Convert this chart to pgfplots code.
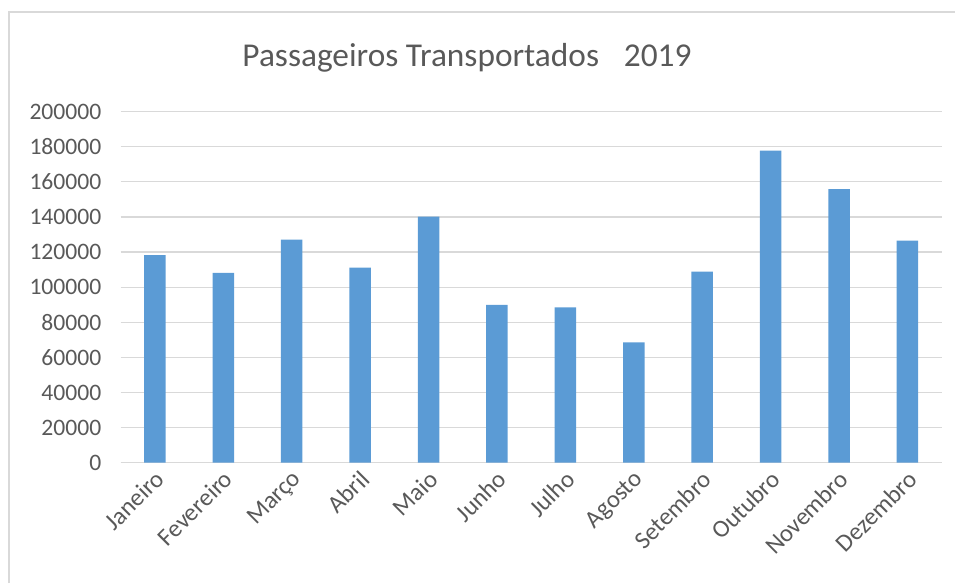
\documentclass[border=0pt]{standalone}
\usepackage{pgfplots}
\pgfplotsset{compat=1.18}
\usepackage{fontspec}
\setmainfont{Carlito}
\definecolor{barblue}{HTML}{5B9BD5}
\definecolor{gridgray}{HTML}{D9D9D9}
\definecolor{txtgray}{HTML}{595959}
\definecolor{framegray}{HTML}{D9D9D9}
\begin{document}
\begin{tikzpicture}
\useasboundingbox (0,0) rectangle (716.25pt,437.25pt);
\draw[framegray, line width=1.5pt] (6.75pt,0pt) -- (6.75pt,428.25pt) -- (716.25pt,428.25pt);
\node[txtgray, font=\fontsize{25}{30}\selectfont] at (350.25pt,393.75pt) {Passageiros Transportados\hspace{13pt} 2019};
\begin{axis}[
  at={(90.5pt,90.25pt)}, anchor=south west,
  scale only axis, width=615.75pt, height=263.25pt,
  xmin=-0.5, xmax=11.5, ymin=0, ymax=200000,
  ytick={0,20000,...,200000},
  scaled y ticks=false,
  yticklabel style={/pgf/number format/fixed, /pgf/number format/1000 sep={}, font=\fontsize{17.7}{21}\selectfont, text=txtgray, xshift=-11pt},
  /pgf/number format/assume math mode=true,
  xtick=data,
  xticklabels={Janeiro,Fevereiro,Março,Abril,Maio,Junho,Julho,Agosto,Setembro,Outubro,Novembro,Dezembro},
  xticklabel style={rotate=45, anchor=north east, font=\fontsize{18.5}{22}\selectfont, text=txtgray, inner sep=1pt, yshift=-1.5pt, xshift=-2.8pt},
  major tick length=0pt,
  ymajorgrids, grid style={gridgray, line width=0.9pt},
  axis x line*=bottom, axis y line*=left,
  y axis line style={draw=none},
  x axis line style={gridgray, line width=0.9pt, -},
  ybar, bar width=16.1pt,
]
\addplot[fill=barblue, draw=none] coordinates {
(0,118300) (1,108100) (2,127100) (3,111100) (4,140200) (5,89900)
(6,88500) (7,68600) (8,108800) (9,177800) (10,155800) (11,126500)};
\end{axis}
\end{tikzpicture}
\end{document}
